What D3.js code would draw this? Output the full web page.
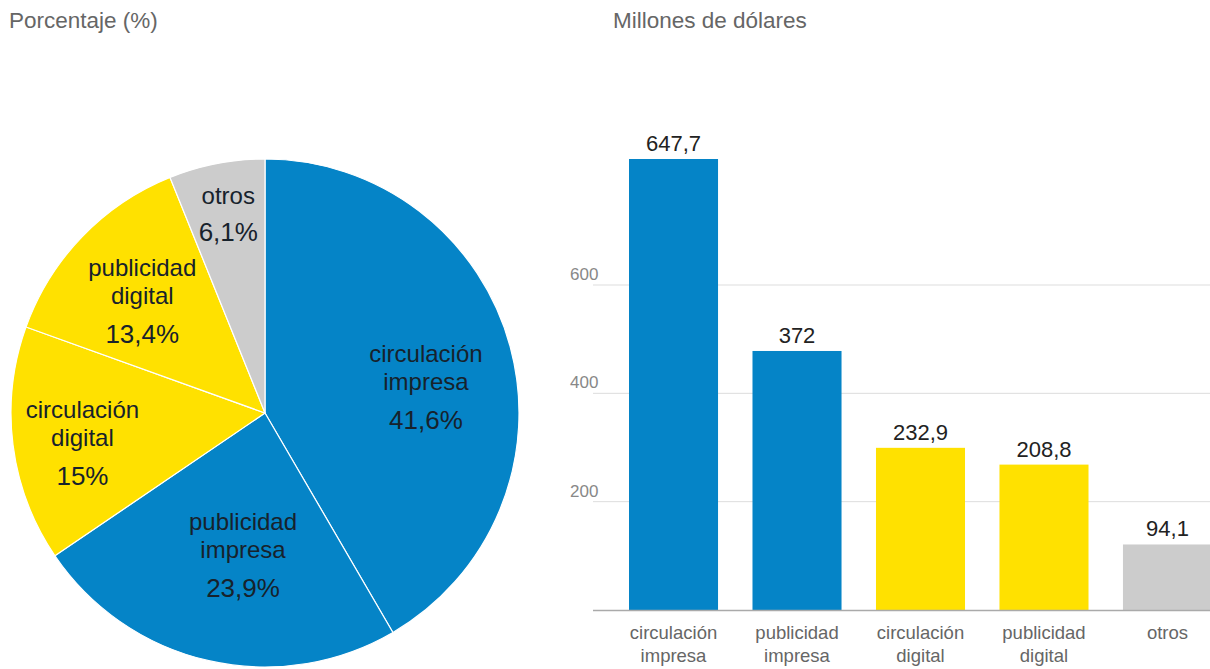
<!DOCTYPE html>
<html>
<head>
<meta charset="utf-8">
<script src="https://cdn.jsdelivr.net/npm/d3@7/dist/d3.min.js"></script>
<style>
  html, body { margin: 0; padding: 0; background: #fff; }
  svg { display: block; font-family: "Liberation Sans", Arial, sans-serif; }
</style>
</head>
<body>
<svg id="chart" width="1210" height="669"></svg>
<script>
// Ingresos por fuente
const categories = ["circulación impresa", "publicidad impresa", "circulación digital", "publicidad digital", "otros"];
const shareLabels = ["41,6%", "23,9%", "15%", "13,4%", "6,1%"];
const shares = [41.6, 23.9, 15, 13.4, 6.1];
const amounts = [647.7, 372, 232.9, 208.8, 94.1];
const amountLabels = ["647,7", "372", "232,9", "208,8", "94,1"];
const groups = ["impresa", "impresa", "digital", "digital", "otros"];
const axisTicks = [200, 400, 600];
const axisTickLabels = ["200", "400", "600"];

const colors = { impresa: "#0584c7", digital: "#ffe100", otros: "#cccccc" };
const textDark = "#17222c";

const svg = d3.select("#chart");

// ---------- Titles ----------
svg.append("text").attr("x", 9).attr("y", 28)
  .attr("font-size", 22.5).attr("fill", "#666").text("Porcentaje (%)");
svg.append("text").attr("x", 613).attr("y", 28)
  .attr("font-size", 22.5).attr("fill", "#666").text("Millones de dólares");

// ---------- Pie ----------
const cx = 265, cy = 413, radius = 254;
// label placement per slice: distance from centre and angular nudge (degrees)
const labelRadii = [163, 144, 185, 166, 202];
const labelNudge = [5.9, -4.0, -2.1, -1.6, 0.5];

const pie = d3.pie().sort(null).value(d => d)(shares);
const arc = d3.arc().innerRadius(0).outerRadius(radius);
const gPie = svg.append("g").attr("transform", `translate(${cx},${cy})`);

gPie.selectAll("path.slice").data(pie).join("path")
  .attr("class", "slice")
  .attr("d", arc)
  .attr("fill", (d, i) => colors[groups[i]])
  .attr("stroke", "#ffffff")
  .attr("stroke-width", 1.2);

const pieLabels = gPie.selectAll("g.plabel").data(pie).join("g")
  .attr("class", "plabel")
  .attr("transform", (d, i) => {
    const a = (d.startAngle + d.endAngle) / 2 + labelNudge[i] * Math.PI / 180;
    const r = labelRadii[i];
    return `translate(${Math.sin(a) * r},${-Math.cos(a) * r})`;
  });

pieLabels.each(function (d, i) {
  const g = d3.select(this);
  const lines = categories[i].split(" ");
  const n = lines.length;
  // name lines then the percentage, centred on the anchor point
  const offsets = n === 2 ? [-33, -5, 33] : [-18, 18];
  lines.forEach((w, k) => {
    g.append("text").attr("text-anchor", "middle").attr("y", offsets[k] + 8)
      .attr("font-size", 24).attr("fill", textDark).text(w);
  });
  g.append("text").attr("text-anchor", "middle").attr("y", offsets[n] + 9)
    .attr("font-size", 26).attr("fill", textDark).text(shareLabels[i]);
});

// ---------- Bars ----------
const baseY = 610;
const x = d3.scaleBand().domain(categories).range([629, 1212]).paddingInner(0.279).paddingOuter(0);
const y = d3.scaleLinear().domain([0, 647.7]).range([baseY, 159]);
const yAxis = d3.scaleLinear().domain([0, 600]).range([baseY, 285]);

const gGrid = svg.append("g");
gGrid.selectAll("line").data(axisTicks).join("line")
  .attr("x1", 593).attr("x2", 1210)
  .attr("y1", d => yAxis(d)).attr("y2", d => yAxis(d))
  .attr("stroke", "#dddddd").attr("stroke-width", 1);
gGrid.selectAll("text").data(axisTicks).join("text")
  .attr("x", 570).attr("y", d => yAxis(d) - 5)
  .attr("font-size", 17).attr("fill", "#888").text((d, i) => axisTickLabels[i]);

svg.selectAll("rect.bar").data(amounts).join("rect")
  .attr("class", "bar")
  .attr("x", (d, i) => x(categories[i]))
  .attr("width", x.bandwidth())
  .attr("y", d => y(d))
  .attr("height", d => baseY - y(d))
  .attr("fill", (d, i) => colors[groups[i]]);

svg.append("line").attr("x1", 593).attr("x2", 1210).attr("y1", baseY + 0.5).attr("y2", baseY + 0.5)
  .attr("stroke", "#aaaaaa").attr("stroke-width", 1.5);

svg.selectAll("text.val").data(amounts).join("text")
  .attr("class", "val")
  .attr("x", (d, i) => x(categories[i]) + x.bandwidth() / 2)
  .attr("y", d => y(d) - 8)
  .attr("text-anchor", "middle").attr("font-size", 22).attr("fill", "#222")
  .text((d, i) => amountLabels[i]);

const gCat = svg.selectAll("g.cat").data(categories).join("g")
  .attr("class", "cat")
  .attr("transform", d => `translate(${x(d) + x.bandwidth() / 2},0)`);
gCat.each(function (d) {
  const words = d.split(" ");
  words.forEach((w, k) => {
    d3.select(this).append("text").attr("text-anchor", "middle")
      .attr("y", 639 + k * 23).attr("font-size", 18.5).attr("fill", "#666").text(w);
  });
});
</script>
</body>
</html>
